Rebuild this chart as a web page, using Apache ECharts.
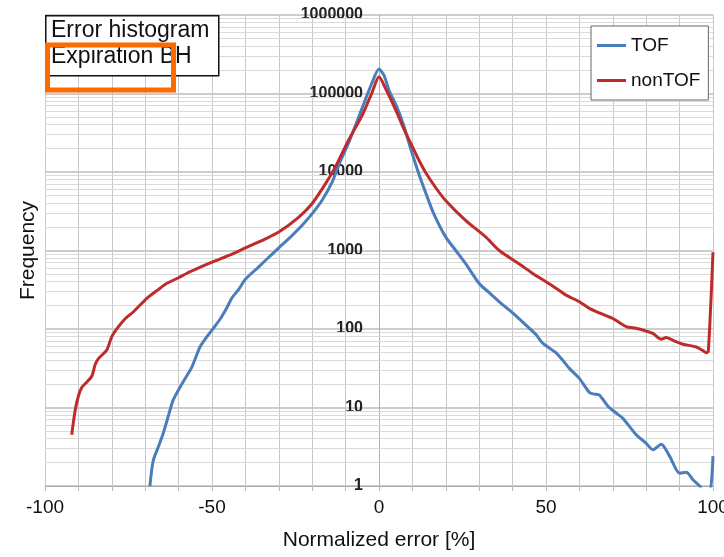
<!DOCTYPE html>
<html>
<head>
<meta charset="utf-8">
<script src="https://cdn.jsdelivr.net/npm/echarts@6/dist/echarts.min.js"></script>
<style>
  html, body { margin: 0; padding: 0; background: #fff; }
  #chart { width: 724px; height: 557px; }
</style>
</head>
<body>
<div id="chart"></div>
<script>
// [normalized error %, frequency]
const tofData = [
  [-68.6, 1], [-67.6, 2.1], [-66, 3.2], [-64.6, 4.7], [-63, 8], [-61.6, 12.5],
  [-59, 20], [-56, 33], [-53.6, 59], [-51.5, 80], [-49.6, 102], [-47.5, 135],
  [-45.6, 185], [-44, 250], [-42, 320], [-40, 430], [-36, 620], [-33, 820],
  [-30, 1080], [-26, 1560], [-23, 2100], [-20, 2950], [-17, 4400], [-14, 7500],
  [-12, 12500], [-9, 24000], [-5, 66000], [-2, 140000], [0, 205000], [1.5, 170000],
  [3, 110000], [5.3, 68000], [7.5, 38000], [9.3, 21000], [12.3, 8500], [14.3, 5000],
  [16.3, 3000], [20, 1480], [23, 1000], [26, 675], [30, 380], [33, 290],
  [36, 222], [40, 160], [44, 112], [47, 85], [49, 66], [52.7, 51],
  [55, 40], [57, 31.5], [60, 23.5], [63, 15.5], [64.5, 14.8], [66, 14.4],
  [68.7, 10.2], [71, 8.5], [73, 7.3], [77, 4.5], [80, 3.5], [82, 2.9],
  [84.5, 3.4], [87, 2.4], [90, 1.45], [92, 1.5], [94, 1.2], [96, 1],
  [97.5, 0.8], [99, 0.8], [100, 2.4]
];
const nonTofData = [
  [-92, 4.5], [-91, 9], [-90, 14], [-89, 18], [-88, 20], [-86, 25],
  [-85, 35], [-84, 42], [-81.5, 54], [-80, 80], [-78, 107], [-76, 135],
  [-73.5, 166], [-69.5, 246], [-66, 320], [-63.5, 382], [-60, 450], [-57.5, 513],
  [-54, 600], [-50, 710], [-44, 900], [-40, 1080], [-34, 1410], [-30, 1720],
  [-24, 2670], [-20, 3970], [-16, 7100], [-13, 11700], [-9, 26000], [-5, 53000],
  [-2, 105000], [0, 163000], [2, 115000], [5, 62000], [7.5, 35000], [10, 21000],
  [12, 14000], [14, 9800], [17, 6300], [20, 4300], [26, 2400], [32, 1480],
  [36, 1000], [42, 675], [46, 510], [50, 400], [54, 310], [56, 270],
  [60, 222], [63, 183], [66, 160], [70, 136], [74, 107], [77, 102],
  [80, 94], [82, 88], [84.5, 74], [86, 78], [88.5, 70], [91, 64],
  [95, 59], [97, 53], [98, 50], [98.6, 52], [100, 950]
];
const seriesNames = ['TOF', 'nonTOF'];
const xTickLabels = [-100, -50, 0, 50, 100];

// minor log grid lines 2..9 in each decade
const minorGrid = [];
for (let d = 0; d < 6; d++) {
  for (let k = 2; k <= 9; k++) minorGrid.push(k * Math.pow(10, d));
}

const font = '"Liberation Sans", Arial, sans-serif';
const chart = echarts.init(document.getElementById('chart'));

chart.setOption({
  animation: false,
  backgroundColor: '#fff',
  grid: { left: 45, right: 11, top: 15, bottom: 71, containLabel: false, outerBoundsMode: 'none' },
  legend: {
    data: seriesNames,
    orient: 'vertical',
    left: 591,
    top: 26,
    padding: [10, 8, 10, 6],
    itemGap: 16,
    itemWidth: 29,
    itemHeight: 3,
    icon: 'rect',
    backgroundColor: '#fff',
    borderColor: '#666',
    borderWidth: 1,
    textStyle: { fontSize: 19, fontFamily: font, color: '#111' }
  },
  xAxis: {
    type: 'value',
    min: -100,
    max: 100,
    interval: 10,
    name: 'Normalized error [%]',
    nameLocation: 'middle',
    nameGap: 44,
    nameTextStyle: { fontSize: 21, fontFamily: font, color: '#111' },
    axisLine: { onZero: false, lineStyle: { color: '#aaa' } },
    axisTick: { show: true, length: 5, lineStyle: { color: '#bbb' } },
    axisLabel: {
      fontSize: 19, fontFamily: font, color: '#111', margin: 12,
      formatter: v => (xTickLabels.indexOf(v) >= 0 ? String(v) : '')
    },
    splitLine: { show: true, lineStyle: { color: '#c8c8c8', width: 1 } }
  },
  yAxis: {
    type: 'log',
    logBase: 10,
    min: 1,
    max: 1000000,
    position: 'left',
    offset: -334,
    name: 'Frequency',
    nameLocation: 'middle',
    nameGap: 340,
    nameTextStyle: { fontSize: 21, fontFamily: font, color: '#111' },
    axisLine: { show: true, onZero: false, lineStyle: { color: '#b0b0b0' } },
    axisTick: { show: false },
    axisLabel: {
      fontSize: 16, fontWeight: 'bold', fontFamily: font, color: '#222', margin: 16,
      formatter: v => String(Math.round(v))
    },
    splitLine: { show: true, lineStyle: { color: '#bcbcbc', width: 1.5 } }
  },
  series: [
    {
      name: 'TOF',
      type: 'line',
      data: tofData,
      showSymbol: false,
      symbol: 'none',
      smooth: 0.25,
      clip: true,
      lineStyle: { color: '#4a7ebb', width: 3 },
      itemStyle: { color: '#4a7ebb' },
      z: 3,
      markLine: {
        silent: true,
        z: 1,
        symbol: ['none', 'none'],
        label: { show: false },
        emphasis: { disabled: true },
        lineStyle: { color: '#dadada', width: 1, type: 'solid' },
        data: minorGrid.map(v => ({ yAxis: v }))
      }
    },
    {
      name: 'nonTOF',
      type: 'line',
      data: nonTofData,
      showSymbol: false,
      symbol: 'none',
      smooth: 0.25,
      clip: true,
      lineStyle: { color: '#be2b2b', width: 3 },
      itemStyle: { color: '#be2b2b' },
      z: 4
    }
  ],
  graphic: [
    {
      type: 'rect',
      left: 45, top: 15,
      shape: { width: 173, height: 60 },
      style: { fill: '#fff', stroke: '#111', lineWidth: 1.5 },
      z: 10
    },
    {
      type: 'text',
      left: 51, top: 19,
      style: { text: 'Error histogram', fontSize: 23, fontFamily: font, fill: '#111' },
      z: 11
    },
    {
      type: 'text',
      left: 51, top: 45,
      style: { text: 'Expiration BH', fontSize: 23, fontFamily: font, fill: '#111' },
      z: 11
    },
    {
      type: 'rect',
      left: 45, top: 42.5,
      shape: { width: 126, height: 45 },
      style: { fill: 'none', stroke: '#ff6a00', lineWidth: 5 },
      z: 12
    }
  ]
});
</script>
</body>
</html>
